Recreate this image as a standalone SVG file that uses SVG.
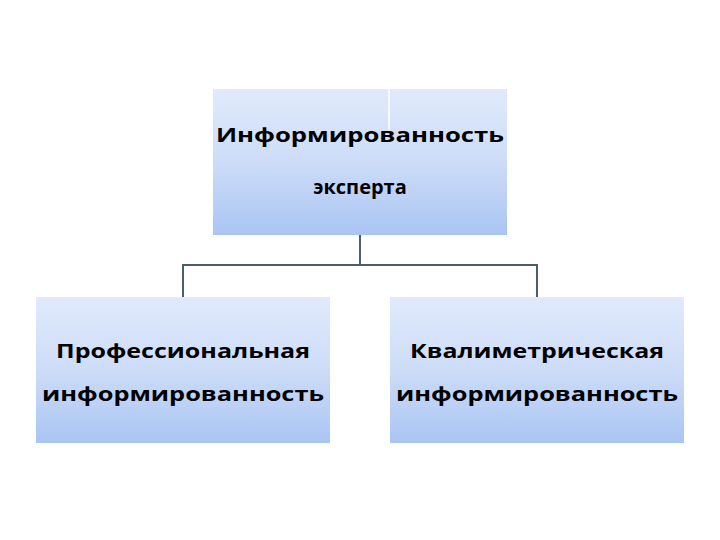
<svg xmlns="http://www.w3.org/2000/svg" width="720" height="540" viewBox="0 0 720 540">
<defs>
<linearGradient id="g" x1="0" y1="0" x2="0" y2="1">
<stop offset="0" stop-color="#e0eafc"/><stop offset="0.5" stop-color="#cddcf8"/><stop offset="1" stop-color="#a9c5f3"/>
</linearGradient>
<style>
.box{fill:url(#g)}
.t{font-family:"Open Sans","DejaVu Sans",sans-serif;font-weight:bold;font-size:20px;fill:#000;text-anchor:middle}
.c{stroke:#4d5d70;stroke-width:2;fill:none}
</style>
</defs>
<rect width="720" height="540" fill="#fff"/>
<g id="top">
<rect class="box" x="213" y="89" width="294" height="146"/>
<line x1="389" y1="89" x2="389" y2="130" stroke="#fff" stroke-width="1.5"/>
<text class="t" x="360" y="142" textLength="288" lengthAdjust="spacingAndGlyphs">Информированность</text>
<text class="t" x="360" y="194">эксперта</text>
</g>
<g id="left">
<rect class="box" x="36" y="297" width="294" height="146"/>
<text class="t" x="183" y="358" textLength="254" lengthAdjust="spacingAndGlyphs">Профессиональная</text>
<text class="t" x="183" y="401" textLength="282" lengthAdjust="spacingAndGlyphs">информированность</text>
</g>
<g id="right">
<rect class="box" x="390" y="297" width="294" height="146"/>
<text class="t" x="537" y="358" textLength="254" lengthAdjust="spacingAndGlyphs">Квалиметрическая</text>
<text class="t" x="537" y="401" textLength="282" lengthAdjust="spacingAndGlyphs">информированность</text>
</g>
<g id="connectors">
<path class="c" d="M360 235V265M183 297V265H537V297"/>
</g>
</svg>
